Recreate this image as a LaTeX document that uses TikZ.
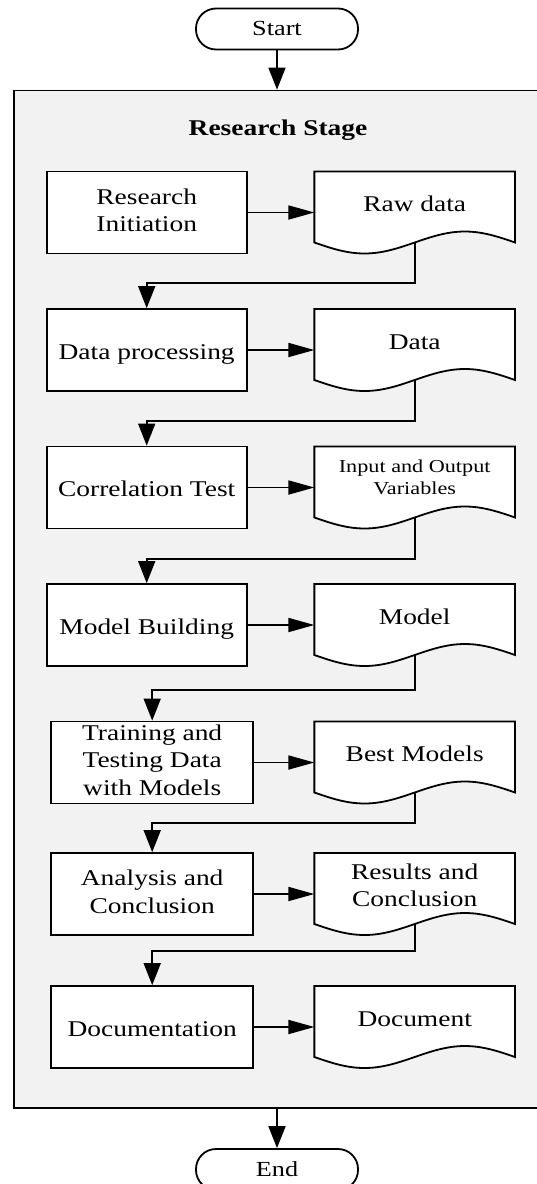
\documentclass[tikz,border=0pt]{standalone}
\usepackage{fontspec}
\setmainfont{Liberation Serif}[FakeStretch=1.22]
\usetikzlibrary{arrows.meta,calc}
\pgfdeclarelayer{back}
\pgfdeclarelayer{paper}
\pgfsetlayers{back,paper,main}

\tikzset{
  line/.style={line width=1.8pt, draw=black},
  hflow/.style={line, -{Triangle[length=26pt,width=14pt]}},
  vflow/.style={line, -{Triangle[length=22pt,width=17pt]}},
  stagebox/.style={line, fill=gray!10, minimum width=527.4pt, minimum height=1017.5pt},
  terminal/.style={line, fill=white, rounded corners=20pt, minimum width=162pt,
    minimum height=41pt, inner sep=0pt, font=\fontsize{21.5}{26}\selectfont,
    execute at begin node={\rule{0pt}{18pt}},
    execute at end node={\rule[-4.6pt]{0pt}{4.6pt}}},
  stagetitle/.style={font=\fontsize{22.5}{27}\selectfont\bfseries, inner sep=0pt},
  stepbox/.style={line, fill=white, minimum height=82pt, inner xsep=2pt, inner ysep=0pt,
    align=center, font=\fontsize{22.5}{27.5}\selectfont,
    execute at begin node={\rule{0pt}{23pt}},
    execute at end node={\rule[-5pt]{0pt}{5pt}}},
  narrowbox/.style={stepbox, minimum width=200pt},
  widebox/.style={stepbox, minimum width=201.7pt},
  docnode/.style={minimum width=200.7pt, minimum height=82pt, inner sep=0pt, outer sep=0pt,
    align=center, font=\fontsize{22.5}{27.5}\selectfont,
    execute at begin node={\rule{0pt}{16pt}},
    execute at end node={\rule[-18pt]{0pt}{18pt}}},
  smalldoc/.style={docnode, font=\fontsize{18.2}{21.5}\selectfont,
    execute at begin node={\rule{0pt}{13pt}},
    execute at end node={\rule[-21pt]{0pt}{21pt}}},
}

\begin{document}
\begin{tikzpicture}[x=1pt, y=-1pt]
\useasboundingbox (0,0) rectangle (536,1184);

% outer container
\begin{pgfonlayer}{back}
  \node[stagebox] (stage) at (278,599.25) {};
\end{pgfonlayer}

\node[terminal] (startnode) at (277,29) {Start};
\node[terminal] (stopnode) at (277,1169.5) {End};
\node[stagetitle, anchor=base] (title) at (278,135.7) {Research Stage};

% process steps
\node[narrowbox] (b1) at (146.7,212.5) {Research\\Initiation};
\node[narrowbox] (b2) at (146.7,350) {Data processing};
\node[narrowbox] (b3) at (146.7,487.5) {Correlation Test};
\node[narrowbox] (b4) at (146.7,625) {Model Building};
\node[widebox]   (b5) at (152.2,762.5) {Training and\\Testing Data\\with Models};
\node[widebox]   (b6) at (152.2,894) {Analysis and\\Conclusion};
\node[widebox]   (b7) at (152.2,1027) {Documentation};

% produced documents
\node[docnode]  (d1) at (414.7,212.5) {Raw data};
\node[docnode]  (d2) at (414.7,350) {Data};
\node[smalldoc] (d3) at (414.7,487.5) {Input and Output\\Variables};
\node[docnode]  (d4) at (414.7,625) {Model};
\node[docnode]  (d5) at (414.7,762.5) {Best Models};
\node[docnode]  (d6) at (414.7,894) {Results and\\Conclusion};
\node[docnode]  (d7) at (414.7,1027) {Document};

% document outlines with wavy bottom edge
\begin{pgfonlayer}{paper}
\foreach \i in {1,...,7}{
  \draw[line, fill=white] (d\i.north west) -- ($(d\i.north west)+(0,71)$)
    sin ($(d\i.north west)+(50.175,82)$) cos ($(d\i.north)+(0,71)$)
    sin ($(d\i.north west)+(150.525,60)$) cos ($(d\i.north east)+(0,71)$)
    -- (d\i.north east) -- cycle;
}
\end{pgfonlayer}
\foreach \i in {1,...,7}{
  \coordinate (w\i) at ($(d\i.north)+(0,71)$);
  \draw[hflow] (b\i.east) -- (d\i.west);
}

% links from each document down to the next step
\foreach \i/\j/\g in {1/2/25.5, 2/3/24.5, 3/4/24.5, 4/5/30.5, 5/6/29, 6/7/34.5}{
  \path (b\j.north) ++(0,-\g) coordinate (k\i);
  \draw[vflow] (w\i) |- (k\i) -- (b\j.north);
}

\draw[vflow] (startnode) -- (startnode |- stage.north);
\draw[vflow] (stage.south -| stopnode) -- (stopnode);
\end{tikzpicture}
\end{document}
